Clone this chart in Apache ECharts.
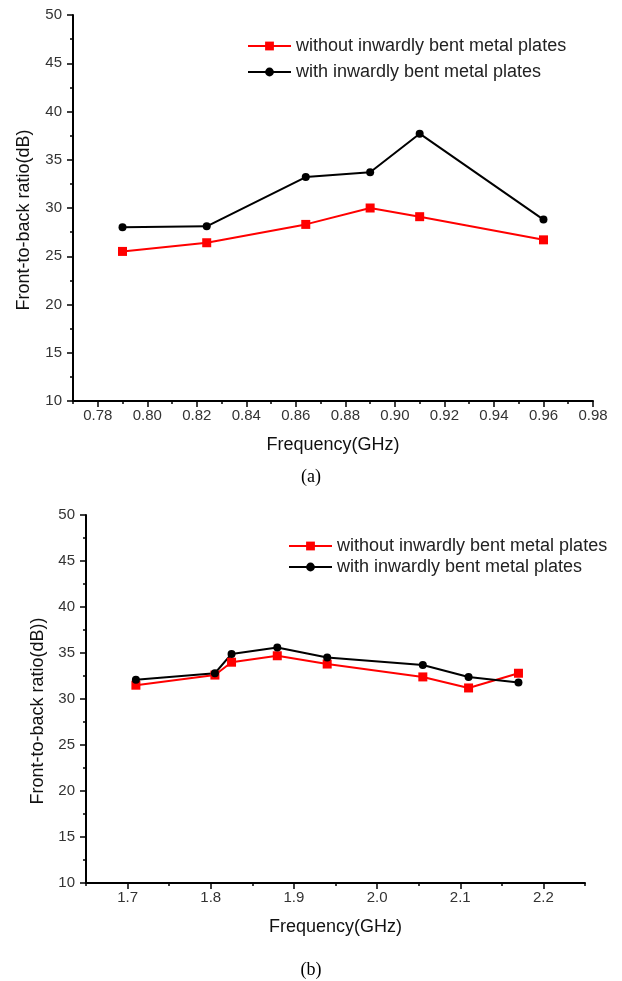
<!DOCTYPE html>
<html>
<head>
<meta charset="utf-8">
<script src="https://cdn.jsdelivr.net/npm/echarts@6/dist/echarts.min.js"></script>
<style>
html,body{margin:0;padding:0;background:#fff;}
#c{width:622px;height:981px;}
</style>
</head>
<body>
<div id="c"></div>
<script>
// ---- data (a) 0.79–0.96 GHz band ----
const freqA = [0.79, 0.824, 0.864, 0.89, 0.91, 0.96];
const withoutA = [25.5, 26.4, 28.3, 30.0, 29.1, 26.7];
const withA = [28.0, 28.1, 33.2, 33.7, 37.7, 28.8];

// ---- data (b) 1.71–2.17 GHz band ----
const freqB = [1.71, 1.805, 1.825, 1.88, 1.94, 2.055, 2.11, 2.17];
const withoutB = [31.5, 32.6, 34.0, 34.7, 33.8, 32.4, 31.2, 32.8];
const withB = [32.1, 32.8, 34.9, 35.6, 34.5, 33.7, 32.4, 31.8];

// ---- tick values ----
const xTicksA = [0.78, 0.80, 0.82, 0.84, 0.86, 0.88, 0.90, 0.92, 0.94, 0.96, 0.98];
const xMinorA = [0.77, 0.79, 0.81, 0.83, 0.85, 0.87, 0.89, 0.91, 0.93, 0.95, 0.97];
const xTicksB = [1.7, 1.8, 1.9, 2.0, 2.1, 2.2];
const xMinorB = [1.65, 1.75, 1.85, 1.95, 2.05, 2.15, 2.25];

// ---- labels ----
const seriesNames = ['without inwardly bent metal plates', 'with inwardly bent metal plates'];
const xNames = ['Frequency(GHz)', 'Frequency(GHz)'];
const yNames = ['Front-to-back ratio(dB)', 'Front-to-back ratio(dB))'];
const captions = ['(a)', '(b)'];
const xRangeA = [0.77, 0.98], xDecA = 2;
const xRangeB = [1.65, 2.25], xDecB = 1;
const yRange = [10, 50], yStep = 5;

const zip = (xs, ys) => xs.map((x, i) => [x, ys[i]]);
const FONT = 'Liberation Sans, Arial, sans-serif';
const RED = '#ff0000', BLACK = '#000000';

function xAxis(grid, range, ticks, dec) {
  return {
    type: 'value', gridIndex: grid, min: range[0], max: range[1], position: 'bottom',
    name: xNames[grid], nameLocation: 'middle', nameGap: 35,
    nameTextStyle: {fontFamily: FONT, fontSize: 18, color: '#111'},
    axisLine: {show: true, onZero: false, lineStyle: {color: '#000', width: 2}},
    axisTick: {show: true, length: 6, customValues: ticks, lineStyle: {color: '#000', width: 1.5}},
    minorTick: {show: false},
    axisLabel: {fontFamily: FONT, fontSize: 15, color: '#333', margin: 7,
      customValues: ticks, formatter: v => v.toFixed(dec)},
    splitLine: {show: false}
  };
}
function xMinorAxis(grid, range, minors) {
  return {
    type: 'value', gridIndex: grid, min: range[0], max: range[1], position: 'bottom',
    axisLine: {show: false, onZero: false},
    axisTick: {show: true, length: 3, customValues: minors, lineStyle: {color: '#000', width: 1.5}},
    axisLabel: {show: false},
    splitLine: {show: false}
  };
}
function yAxis(grid, gap) {
  return {
    type: 'value', gridIndex: grid, min: yRange[0], max: yRange[1], interval: yStep,
    name: yNames[grid], nameLocation: 'middle', nameGap: gap, nameRotate: 90,
    nameTextStyle: {fontFamily: FONT, fontSize: 18, color: '#111', padding: [0, 24, 0, 0]},
    axisLine: {show: true, lineStyle: {color: '#000', width: 2}},
    axisTick: {show: true, length: 6, lineStyle: {color: '#000', width: 1.5}},
    minorTick: {show: true, splitNumber: 2, length: 3, lineStyle: {color: '#000', width: 1.5}},
    axisLabel: {fontFamily: FONT, fontSize: 15, color: '#333', margin: 11},
    splitLine: {show: false}
  };
}
function line(name, data, xi, yi, color, symbol, size) {
  return {
    type: 'line', name, data, xAxisIndex: xi, yAxisIndex: yi,
    symbol, symbolSize: size, showAllSymbol: true,
    lineStyle: {color, width: 2}, itemStyle: {color},
    emphasis: {disabled: true}, animation: false
  };
}

const chart = echarts.init(document.getElementById('c'), null, {renderer: 'canvas'});
chart.setOption({
  animation: false,
  backgroundColor: '#fff',
  title: [
    {text: captions[0], left: 'center', top: 468, padding: 0,
     textStyle: {fontFamily: 'Liberation Serif, Times New Roman, serif', fontSize: 18, fontWeight: 'normal', color: '#000'}},
    {text: captions[1], left: 'center', top: 961, padding: 0,
     textStyle: {fontFamily: 'Liberation Serif, Times New Roman, serif', fontSize: 18, fontWeight: 'normal', color: '#000'}}
  ],
  legend: [
    {orient: 'vertical', left: 247, top: 37, padding: 0, itemWidth: 43, itemHeight: 11, itemGap: 8,
     data: seriesNames, selectedMode: false,
     textStyle: {fontFamily: FONT, fontSize: 18, color: '#222'}},
    {orient: 'vertical', left: 288, top: 537, padding: 0, itemWidth: 43, itemHeight: 11, itemGap: 3,
     data: seriesNames, selectedMode: false,
     textStyle: {fontFamily: FONT, fontSize: 18, color: '#222'}}
  ],
  grid: [
    {left: 73, top: 15, width: 520, height: 386, containLabel: false},
    {left: 86, top: 515, width: 499, height: 368, containLabel: false}
  ],
  xAxis: [
    xAxis(0, xRangeA, xTicksA, xDecA), xAxis(1, xRangeB, xTicksB, xDecB),
    xMinorAxis(0, xRangeA, xMinorA), xMinorAxis(1, xRangeB, xMinorB)
  ],
  yAxis: [yAxis(0, 40), yAxis(1, 37)],
  series: [
    line(seriesNames[0], zip(freqA, withoutA), 0, 0, RED, 'rect', 9),
    line(seriesNames[1], zip(freqA, withA), 0, 0, BLACK, 'circle', 8),
    line(seriesNames[0], zip(freqB, withoutB), 1, 1, RED, 'rect', 9),
    line(seriesNames[1], zip(freqB, withB), 1, 1, BLACK, 'circle', 8)
  ]
});
</script>
</body>
</html>
